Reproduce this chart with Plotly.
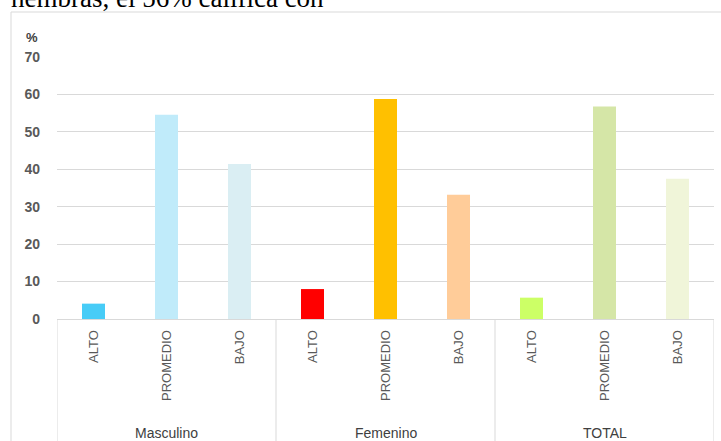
import plotly.graph_objects as go

groups = ["Masculino", "Femenino", "TOTAL"]
levels = ["ALTO", "PROMEDIO", "BAJO"]
masculino = [4.1, 54.6, 41.4]
femenino = [8.0, 58.8, 33.2]
total = [5.7, 56.8, 37.5]
colors_masculino = ["#47CCF7", "#C0EBFA", "#DAEEF3"]
colors_femenino = ["#FF0000", "#FFC000", "#FFCC99"]
colors_total = ["#CCFF66", "#D5E6A7", "#F0F5D9"]
y_ticks = [0, 10, 20, 30, 40, 50, 60, 70]

values = masculino + femenino + total
colors = colors_masculino + colors_femenino + colors_total
labels = levels * len(groups)
xs = list(range(len(values)))

W, H = 721, 441
L, R, T, B = 57, 7, 57, 122
ph = H - T - B
pw = W - L - R

def py(px):
    return 1 - (px - T) / ph

def px_(x):
    return (x - L) / pw

fig = go.Figure(go.Bar(x=xs, y=values, marker=dict(color=colors, line=dict(width=0)),
                       hoverinfo="skip"))

grid = "#D9D9D9"
shapes = []
# outer chart border
shapes.append(dict(type="rect", xref="paper", yref="paper", x0=px_(11), x1=px_(730),
                   y0=py(460), y1=py(12), line=dict(color=grid, width=1), layer="below"))
# group separators
n = len(levels)
for k in range(len(groups) + 1):
    shapes.append(dict(type="line", xref="x", yref="paper", x0=k * n - 0.5, x1=k * n - 0.5,
                       y0=0, y1=py(445), line=dict(color=grid, width=1)))

annotations = []
for k, g in enumerate(groups):
    annotations.append(dict(text=g, x=k * n + (n - 1) / 2, xref="x", y=py(433), yref="paper",
                            showarrow=False, xanchor="center", yanchor="middle",
                            font=dict(family="Liberation Sans", size=14, color="#404040")))
annotations.append(dict(text="<b>%</b>", x=px_(32), y=py(37), xref="paper", yref="paper",
                        showarrow=False, xanchor="center", yanchor="middle",
                        font=dict(family="Liberation Sans", size=13, color="#404040")))
annotations.append(dict(text="hembras, el 56% califica con", x=px_(9), y=py(15), xref="paper",
                        yref="paper", showarrow=False, xanchor="left", yanchor="bottom",
                        font=dict(family="Liberation Serif", size=27, color="#000000")))

fig.update_layout(
    width=W, height=H,
    margin=dict(l=L, r=R, t=T, b=B, pad=0, autoexpand=False),
    paper_bgcolor="white", plot_bgcolor="white",
    bargap=0.685,
    showlegend=False,
    shapes=shapes,
    annotations=annotations,
    xaxis=dict(tickmode="array", tickvals=xs, ticktext=labels, tickangle=-90,
               range=[-0.5, len(values) - 0.5], showgrid=False, zeroline=False,
               showline=True, linecolor=grid, linewidth=1, ticks="",
               ticklabelstandoff=5, automargin=False,
               tickfont=dict(family="Liberation Sans", size=13, color="#595959")),
    yaxis=dict(range=[0, 70], tickmode="array", tickvals=y_ticks, showgrid=True,
               gridcolor=grid, gridwidth=1, zeroline=False, showline=False, ticks="",
               ticklabelstandoff=16, automargin=False,
               tickfont=dict(family="Liberation Sans", size=14, color="#595959", weight="bold")),
)

fig.write_html("out.html", config={"displayModeBar": False, "staticPlot": True},
               post_script="document.body.style.margin='0';document.body.style.overflow='hidden';")
